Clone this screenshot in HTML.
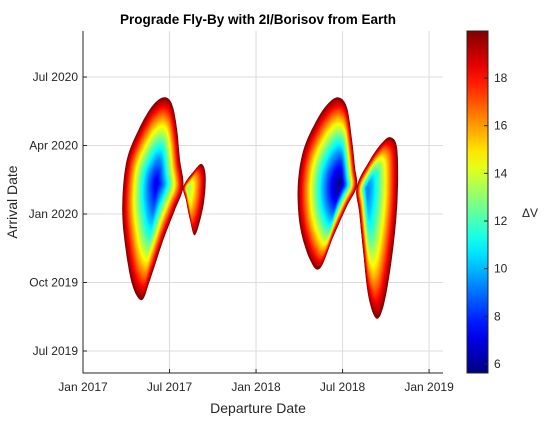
<!DOCTYPE html>
<html><head><meta charset="utf-8"><style>
body{margin:0;background:#fff;}
svg text{font-family:"Liberation Sans",sans-serif;fill:#262626;}
</style></head><body>
<svg id="chart" width="560" height="420" viewBox="0 0 560 420" xmlns="http://www.w3.org/2000/svg">
<defs><clipPath id="plotclip"><rect x="83" y="31" width="360" height="342"/></clipPath></defs>
<rect width="560" height="420" fill="#fff"/>
<g id="grid"></g>
<g id="contours" clip-path="url(#plotclip)"></g>
<g id="axes"></g>
<g id="cbar"></g>
<text x="258" y="24" text-anchor="middle" font-size="13.5" font-weight="bold" style="fill:#000">Prograde Fly-By with 2I/Borisov from Earth</text>
<text x="258" y="413" text-anchor="middle" font-size="14">Departure Date</text>
<text x="17" y="202" text-anchor="middle" font-size="14" transform="rotate(-90 17 202)">Arrival Date</text>
<text x="530" y="217" text-anchor="middle" font-size="12">ΔV</text>
</svg>
<script>
// x: months since Jan 2017, y: months since Jul 2019
const xTickLabels=["Jan 2017","Jul 2017","Jan 2018","Jul 2018","Jan 2019"];
const xTickVals=[0,6,12,18,24];
const yTickLabels=["Jul 2019","Oct 2019","Jan 2020","Apr 2020","Jul 2020"];
const yTickVals=[0,3,6,9,12];
const cbarTicks=[6,8,10,12,14,16,18];
const cMin=5.62, cMax=19.97;
const lobe1X=[5.57,6.15,6.50,6.73,6.96,6.38,5.57,4.65,4.07,3.38,2.84,2.73,3.03,3.84,4.76];
const lobe1Y=[11.11,10.85,9.83,8.37,7.20,6.18,4.86,3.11,2.23,2.97,5.01,6.61,8.37,9.68,10.70];
const lobe2X=[6.96,7.65,8.23,8.51,8.34,7.77,7.42,7.14];
const lobe2Y=[7.20,7.85,8.19,7.63,6.32,5.08,5.74,6.61];
const lobe3X=[17.71,18.29,18.63,18.86,18.98,18.29,17.36,16.44,15.74,15.05,14.89,15.28,16.21,17.01];
const lobe3Y=[11.11,10.70,9.39,8.07,7.20,6.32,5.01,3.62,3.99,5.44,7.20,8.80,10.12,10.85];
const lobe4X=[18.98,19.90,20.71,21.34,21.80,21.80,21.41,20.83,20.32,19.79,19.44,19.16];
const lobe4Y=[7.20,8.37,9.10,9.36,8.80,6.47,3.99,1.94,1.43,2.38,4.28,6.03];
const centersX=[5.11,7.25,17.82,19.70];
const centersY=[7.34,7.12,7.27,7.12];
const minDV=[7.0,13.0,5.6,9.0];
const maxDV=20;

const NS="http://www.w3.org/2000/svg";
const xS=m=>83+m*14.42;
const yS=m=>351-m*22.83;
const cS=v=>364-(v-6)*23.83;
function jet(t){t=Math.max(0,Math.min(1,t));
 const f=x=>Math.max(0,Math.min(1,x));
 const r=f(1.5-Math.abs(4*t-3)),g=f(1.5-Math.abs(4*t-2)),b=f(1.5-Math.abs(4*t-1));
 return `rgb(${Math.round(r*255)},${Math.round(g*255)},${Math.round(b*255)})`;}
function mk(tag,attrs,parent){const e=document.createElementNS(NS,tag);for(const k in attrs)e.setAttribute(k,attrs[k]);parent.appendChild(e);return e;}

const grid=document.getElementById('grid'),axes=document.getElementById('axes');
xTickVals.forEach((v,i)=>{const x=xS(v);
 const l=mk('line',{x1:x,x2:x,y1:31,y2:373,stroke:'#dcdcdc','stroke-width':1},grid);
 
 const t=mk('line',{x1:x,x2:x,y1:373,y2:369,stroke:'#262626'},axes);
 
 const tx=mk('text',{x:x,y:391,'text-anchor':'middle','font-size':12},axes);tx.textContent=xTickLabels[i];
 });
yTickVals.forEach((v,i)=>{const y=yS(v);
 const l=mk('line',{x1:83,x2:443,y1:y,y2:y,stroke:'#dcdcdc','stroke-width':1},grid);
 
 const t=mk('line',{x1:83,x2:87,y1:y,y2:y,stroke:'#262626'},axes);
 
 const tx=mk('text',{x:78,y:y+4,'text-anchor':'end','font-size':12},axes);tx.textContent=yTickLabels[i];
 });
const ax1=mk('line',{x1:83,x2:83,y1:31,y2:373.5,stroke:'#262626'},axes);

const ax2=mk('line',{x1:83,x2:443,y1:373,y2:373,stroke:'#262626'},axes);


const cont=document.getElementById('contours');
const lobes=[[lobe1X,lobe1Y],[lobe2X,lobe2Y],[lobe3X,lobe3Y],[lobe4X,lobe4Y]];
lobes.forEach((lb,k)=>{
 const bx=[],by=[];const n=lb[0].length;
 for(let i=0;i<n;i++){const j=(i+1)%n;
  const x0=xS(lb[0][i]),y0=yS(lb[1][i]),x1=xS(lb[0][j]),y1=yS(lb[1][j]);
  const p=(i-1+n)%n,q=(i+2)%n;
  const xp=xS(lb[0][p]),yp=yS(lb[1][p]),xq=xS(lb[0][q]),yq=yS(lb[1][q]);
  for(let s=0;s<10;s++){const t=s/10,t2=t*t,t3=t2*t;
   bx.push(0.5*((2*x0)+(-xp+x1)*t+(2*xp-5*x0+4*x1-xq)*t2+(-xp+3*x0-3*x1+xq)*t3));
   by.push(0.5*((2*y0)+(-yp+y1)*t+(2*yp-5*y0+4*y1-yq)*t2+(-yp+3*y0-3*y1+yq)*t3));}}
 const cx=xS(centersX[k]),cy=yS(centersY[k]);
 const vmin=minDV[k];
 for(let v=maxDV;v>vmin;v-=0.2){
  const s=Math.pow((v-vmin)/(maxDV-vmin),0.75);
  let d='';
  for(let i=0;i<bx.length;i++){
   const x=cx+(bx[i]-cx)*s,y=cy+(by[i]-cy)*s;
   d+=(i?'L':'M')+x.toFixed(1)+' '+y.toFixed(1);}
  const e=mk('path',{d:d+'Z',fill:jet((v-cMin)/(cMax-cMin))},cont);
  
  }
});

const cb=document.getElementById('cbar');
const defs=document.querySelector('defs');
const g=mk('linearGradient',{id:'jetg',x1:0,y1:1,x2:0,y2:0},defs);
for(let i=0;i<=20;i++)mk('stop',{offset:i/20,'stop-color':jet(i/20)},g);
const cr=mk('rect',{x:467,y:31,width:21,height:342,fill:'url(#jetg)',stroke:'#262626','stroke-width':1},cb);

cbarTicks.forEach(v=>{const y=cS(v);
 const t=mk('line',{x1:484,x2:488,y1:y,y2:y,stroke:'#262626'},cb);
 
 const tx=mk('text',{x:494,y:y+4,'font-size':12},cb);tx.textContent=v;
 });
</script>
</body></html>
